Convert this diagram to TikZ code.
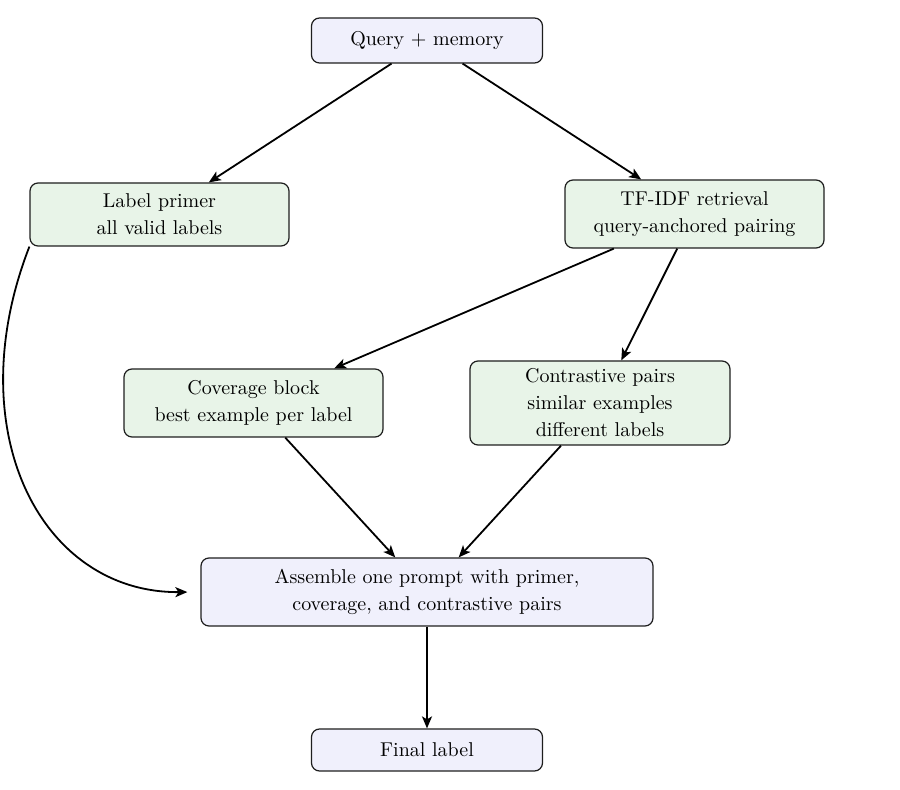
\documentclass[tikz,border=0pt]{standalone}
\usetikzlibrary{arrows.meta}
\definecolor{blueF}{RGB}{240,240,252}
\definecolor{greenF}{RGB}{232,244,232}
\definecolor{edgeC}{RGB}{30,30,30}
\begin{document}
\begin{tikzpicture}[x=0.5pt,y=-0.5pt,
  box/.style={draw=edgeC,line width=0.6pt,rounded corners=4pt,align=center,
    font=\fontsize{10}{13.5}\selectfont,inner sep=2pt},
  bluebox/.style={box,fill=blueF},
  greenbox/.style={box,fill=greenF},
  arr/.style={draw=black,line width=0.9pt,-{Stealth[length=6pt,width=5pt,inset=1.5pt]}}]
\useasboundingbox (0,0) rectangle (900,790);
\node[bluebox,minimum width=115.5pt,minimum height=22.5pt] (q) at (427,40.5) {Query + memory};
\node[greenbox,minimum width=129.5pt,minimum height=31.5pt] (lp) at (159.5,214.5) {Label primer\\all valid labels};
\node[greenbox,minimum width=129.5pt,minimum height=34pt] (tf) at (694.5,214) {TF-IDF retrieval\\query-anchored pairing};
\node[greenbox,minimum width=129.5pt,minimum height=34pt] (cov) at (253.5,403) {Coverage block\\best example per label};
\node[greenbox,minimum width=130pt,minimum height=42pt] (con) at (600,403) {Contrastive pairs\\similar examples\\different labels};
\node[bluebox,minimum width=226pt,minimum height=34pt] (asm) at (427,592) {Assemble one prompt with primer,\\coverage, and contrastive pairs};
\node[bluebox,minimum width=115.5pt,minimum height=21pt] (fin) at (427,750) {Final label};
\draw[arr] (q) -- (lp);
\draw[arr] (q) -- (tf);
\draw[arr] (tf) -- (cov);
\draw[arr] (tf) -- (con);
\draw[arr] (cov) -- (asm);
\draw[arr] (con) -- (asm);
\draw[arr] (asm) -- (fin);
\draw[arr,shorten >=6.5pt] (lp.south west) .. controls (-42,430) and (40,593) .. (asm.west);
\end{tikzpicture}
\end{document}
